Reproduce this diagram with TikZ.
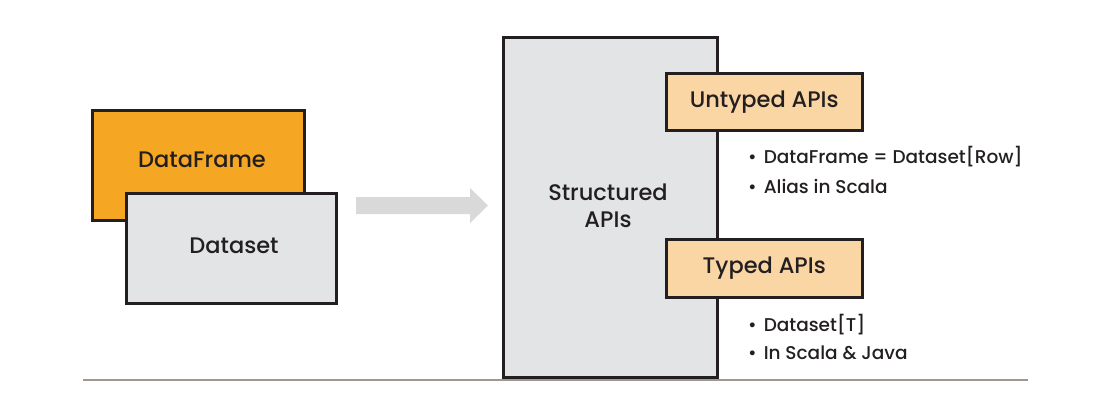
\documentclass[tikz,border=0pt]{standalone}
\usepackage{fontspec}
\setmainfont{Poppins Medium}
\definecolor{dforange}{HTML}{F5A623}
\definecolor{lgray}{HTML}{E3E4E6}
\definecolor{peach}{HTML}{FAD6A5}
\definecolor{edge}{HTML}{231F20}
\definecolor{arrowgray}{HTML}{D9D9D9}
\definecolor{rule}{HTML}{A09890}
\definecolor{txt}{HTML}{231F20}
\begin{document}
\begin{tikzpicture}[x=1pt,y=-1pt,
  boxstyle/.style={draw=edge,line width=2.5pt,inner sep=0pt,text=txt},
  headtext/.style={text=txt,font=\fontsize{22.5}{27}\selectfont,inner sep=0pt},
  bullettext/.style={anchor=west,text=txt,font=\fontsize{18.5}{22}\selectfont,inner sep=0pt}]
\useasboundingbox (0,0) rectangle (1105,405);
% left boxes
\node[boxstyle,fill=dforange,minimum width=212pt,minimum height=110pt,anchor=north west] (df) at (91,109) {};
\node[headtext] (dft) at (202,160) {DataFrame};
\node[boxstyle,fill=lgray,minimum width=210pt,minimum height=110pt,anchor=north west] (ds) at (125,192) {};
\node[headtext] (dst) at (234,246) {Dataset};
% arrow
\fill[arrowgray] (356,197) -- (470,197) -- (470,188) -- (488,205.5) -- (470,223) -- (470,214) -- (356,214) -- cycle;
% structured box
\node[boxstyle,fill=lgray,minimum width=214pt,minimum height=340pt,anchor=north west] (sa) at (502,36) {};
\node[headtext,align=center,font=\fontsize{22.5}{27}\selectfont] (sat) at (608,206) {Structured\\APIs};
% API boxes
\node[boxstyle,fill=peach,minimum width=196pt,minimum height=57pt,anchor=north west] (ua) at (665,72) {};
\node[headtext] (uat) at (ua.center) {Untyped APIs};
\node[boxstyle,fill=peach,minimum width=196pt,minimum height=58pt,anchor=north west] (ta) at (665,238) {};
\node[headtext] (tat) at (ta.center) {Typed APIs};
% bullets
\node[bullettext] (b1) at (748,157) {\textbullet\hspace{7pt}DataFrame = Dataset[Row]};
\node[bullettext] (b2) at (748,186) {\textbullet\hspace{7pt}Alias in Scala};
\node[bullettext] (b3) at (748,325) {\textbullet\hspace{7pt}Dataset[T]};
\node[bullettext] (b4) at (748,353) {\textbullet\hspace{7pt}In Scala \& Java};
% bottom rule
\coordinate (r1) at (83,380);
\coordinate (r2) at (1028,380);
\draw[rule,line width=1.2pt] (r1) -- (r2);
\end{tikzpicture}
\end{document}
